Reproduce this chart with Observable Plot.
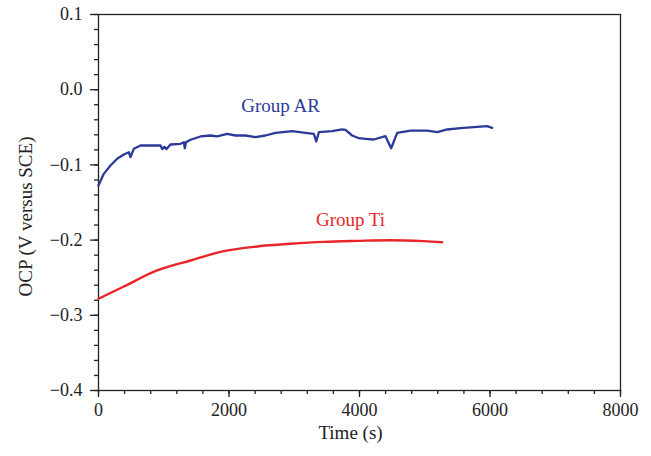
<!DOCTYPE html>
<html>
<head>
<meta charset="utf-8">
<script src="https://cdn.jsdelivr.net/npm/d3@7"></script>
<script src="https://cdn.jsdelivr.net/npm/@observablehq/plot@0.6"></script>
<style>
  html, body { margin: 0; padding: 0; background: #fff; }
</style>
</head>
<body>
<div id="chart"></div>
<script>
// Group AR (blue) — time (s), OCP (V vs SCE)
const arTime = [0, 81, 184, 286, 388, 465, 490, 541, 644, 797, 950, 976, 1010, 1042, 1103, 1257, 1308, 1323, 1340, 1410, 1563, 1717, 1819, 1972, 2100, 2253, 2406, 2559, 2713, 2968, 3172, 3300, 3337, 3377, 3581, 3734, 3785, 3887, 3990, 4092, 4219, 4398, 4485, 4578, 4782, 5038, 5191, 5344, 5548, 5752, 5957, 6034];
const arOCP  = [-0.1274, -0.1119, -0.1008, -0.0919, -0.0862, -0.0831, -0.0897, -0.0786, -0.0742, -0.0742, -0.0742, -0.0790, -0.0760, -0.0790, -0.0729, -0.0720, -0.0698, -0.0778, -0.0700, -0.0666, -0.0622, -0.0609, -0.0622, -0.0587, -0.0609, -0.0609, -0.0631, -0.0609, -0.0574, -0.0552, -0.0574, -0.0587, -0.0689, -0.0565, -0.0552, -0.0529, -0.0535, -0.0609, -0.0645, -0.0653, -0.0662, -0.0618, -0.0778, -0.0574, -0.0543, -0.0543, -0.0565, -0.0529, -0.0512, -0.0499, -0.0485, -0.0507];

// Group Ti (red)
const tiTime = [0, 388, 899, 1410, 1920, 2432, 2943, 3453, 3964, 4475, 4986, 5267];
const tiOCP  = [-0.278, -0.2617, -0.2404, -0.2271, -0.2147, -0.2085, -0.2049, -0.2023, -0.2010, -0.2001, -0.2014, -0.2028];

// Series labels
const seriesNames = ["Group AR", "Group Ti"];
const labelTime = [2789, 3862];
const labelOCP  = [-0.021, -0.1726];
const seriesColors = ["#2b3a98", "#e8262a"];

// Axis ticks
const xMajor = [0, 2000, 4000, 6000, 8000];
const xMinor = d3.range(0, 8001, 400);
const yMajor = [-0.4, -0.3, -0.2, -0.1, 0.0, 0.1];
const yMinor = d3.range(0, 26).map(i => -0.4 + i * 0.02);

const xTitle = "Time (s)";
const yTitle = "OCP (V versus SCE)";

const ar = arTime.map((t, i) => ({t, v: arOCP[i]}));
const ti = tiTime.map((t, i) => ({t, v: tiOCP[i]}));
const labels = seriesNames.map((name, i) => ({name, t: labelTime[i], v: labelOCP[i], c: seriesColors[i]}));

const fmt = d => d === 0 ? "0.0" : d3.format(".1f")(d);

const chart = Plot.plot({
  width: 651,
  height: 456,
  marginLeft: 98,
  marginRight: 31,
  marginTop: 14,
  marginBottom: 66,
  style: {fontFamily: "Liberation Serif", fontSize: "18px", background: "#fff", color: "#111"},
  x: {domain: [0, 8000]},
  y: {domain: [-0.4, 0.1]},
  marks: [
    Plot.frame({stroke: "#222", strokeWidth: 1.3}),
    Plot.axisX(xMinor, {tickSize: 4, text: null, label: null, strokeWidth: 1.3, stroke: "#222"}),
    Plot.axisX(xMajor, {tickSize: 7, tickPadding: 6, tickFormat: d => String(d), label: null, strokeWidth: 1.3, stroke: "#222", fill: "#222", fontSize: 18}),
    Plot.axisY(yMinor, {tickSize: 4, text: null, label: null, strokeWidth: 1.3, stroke: "#222"}),
    Plot.axisY(yMajor, {tickSize: 8, tickPadding: 8, tickFormat: fmt, label: null, strokeWidth: 1.3, stroke: "#222", fill: "#222", fontSize: 18}),
    Plot.line(ar, {x: "t", y: "v", stroke: seriesColors[0], strokeWidth: 2.3, curve: "linear"}),
    Plot.line(ti, {x: "t", y: "v", stroke: seriesColors[1], strokeWidth: 2.4, curve: "monotone-x"}),
    Plot.text(labels, {x: "t", y: "v", text: "name", fill: "c", fontSize: 19}),
    Plot.text([xTitle], {frameAnchor: "bottom", textAnchor: "middle", dx: -9, dy: 48, fontSize: 19, fill: "#222"}),
    Plot.text([yTitle], {frameAnchor: "left", textAnchor: "middle", rotate: -90, dx: -73, dy: 14, fontSize: 19, fill: "#222"})
  ]
});
document.getElementById("chart").append(chart);
</script>
</body>
</html>
